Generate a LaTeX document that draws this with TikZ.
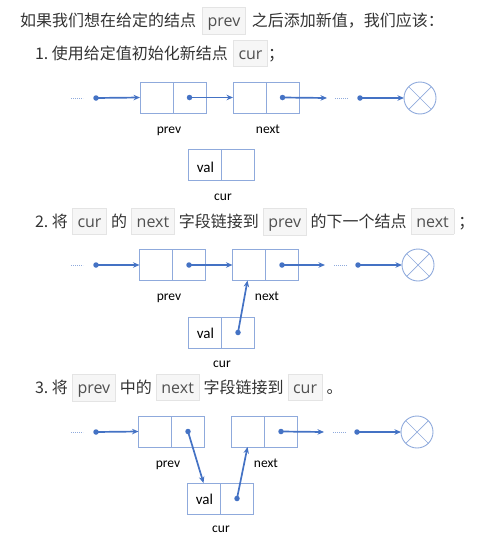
\documentclass[tikz,border=0pt]{standalone}
\usepackage{fontspec}
\setmainfont{Open Sans}
\newfontfamily\cjk{Noto Sans CJK SC}
\newfontfamily\labelfont{Carlito}
\usetikzlibrary{arrows.meta, calc}

\definecolor{boxblue}{HTML}{8FAADC}
\definecolor{ptrblue}{HTML}{4472C4}
\definecolor{codebg}{HTML}{F6F6F6}
\definecolor{codeline}{HTML}{E4E4E4}
\definecolor{codetext}{HTML}{505050}
\definecolor{bodytext}{HTML}{333333}

% inline code chip
\newcommand{\chip}[1]{{\setlength\fboxsep{4pt}\setlength\fboxrule{0.6pt}%
  \fcolorbox{codeline}{codebg}{\rule[-3pt]{0pt}{17pt}\kern1pt{\rmfamily\color{codetext}#1}\kern1pt}}}

\begin{document}
\begin{tikzpicture}[x=1pt, y=-1pt,
    every node/.style={inner sep=0pt, outer sep=0pt},
    line/.style={font=\cjk\fontsize{16}{20}\selectfont, text=bodytext, anchor=base west},
    listnode/.style={draw=boxblue, line width=0.9pt, minimum width=66pt, minimum height=31pt,
        path picture={\draw[boxblue, line width=0.9pt] (path picture bounding box.north) -- (path picture bounding box.south);}},
    nullnode/.style={circle, draw=boxblue, line width=0.9pt, minimum size=32pt,
        path picture={\draw[boxblue, line width=0.7pt]
            (path picture bounding box.north west) -- (path picture bounding box.south east)
            (path picture bounding box.north east) -- (path picture bounding box.south west);}},
    tag/.style={font=\labelfont\fontsize{13.5}{15}\selectfont, anchor=base},
    valtext/.style={font=\labelfont\fontsize{15}{17}\selectfont, anchor=base},
    ptr/.style={ptrblue, line width=1.7pt, -{Stealth[length=6.5pt, width=5.5pt]}},
    dot/.style={circle, fill=ptrblue, minimum size=5.5pt},
    more/.style={boxblue, line width=1pt, dash pattern=on 1.2pt off 0.8pt}
]
    \useasboundingbox (0,0) rectangle (481,541);

    % text
    \node[line] (intro) at (20,26) {如果我们想在给定的结点\hspace{6pt}\chip{prev}\hspace{6pt}之后添加新值，我们应该：};
    \node[line] (step1) at (35,59) {1.\ 使用给定值初始化新结点\hspace{5pt}\chip{cur}；};
    \node[line] (step2) at (35,227) {2.\ 将\hspace{4pt}\chip{cur}\hspace{4pt}的\hspace{4pt}\chip{next}\hspace{4pt}字段链接到\hspace{4pt}\chip{prev}\hspace{4pt}的下一个结点\hspace{4pt}\chip{next}\hspace{4pt}；};
    \node[line] (step3) at (35,393) {3.\ 将\hspace{4pt}\chip{prev}\hspace{4pt}中的\hspace{4pt}\chip{next}\hspace{4pt}字段链接到\hspace{4pt}\chip{cur}\hspace{4pt}。};

    % step 1
    \node[listnode] (prevA) at (173,97.5) {};
    \node[listnode] (nextA) at (266,97.5) {};
    \node[listnode] (curA) at (221.5,165) {};
    \node[nullnode] (nullA) at (420,98) {};
    \node[valtext] (valA) at (205.5,172) {val};
    \node[tag] (prevtagA) at (169,133) {prev};
    \node[tag] (nexttagA) at (268,133) {next};
    \node[tag] (curtagA) at (223,200) {cur};
    \node[dot] (headA) at (96,98) {};
    \node[dot] (pA) at ($(prevA.center)!0.5!(prevA.east)$) {};
    \node[dot] (nA) at ($(nextA.center)!0.5!(nextA.east)$) {};
    \node[dot] (tailA) at (360,98) {};
    \coordinate (endA) at (327,98);
    \draw[more] (71,98) -- (83,98);
    \draw[more] (335,98) -- (348,98);
    \draw[ptr] (headA.center) -- (prevA.west);
    \draw[ptr] (pA.center) -- (nextA.west);
    \draw[ptr] (nA.center) -- (endA);
    \draw[ptr] (tailA.center) -- (nullA.west);

    % step 2
    \node[listnode] (prevB) at (172.5,265) {};
    \node[listnode] (nextB) at (265.5,265) {};
    \node[listnode] (curB) at (221.5,332.5) {};
    \node[nullnode] (nullB) at (418,265) {};
    \node[valtext] (valB) at (205.5,338) {val};
    \node[tag] (prevtagB) at (169,300) {prev};
    \node[tag] (nexttagB) at (267,300) {next};
    \node[tag] (curtagB) at (222,367) {cur};
    \node[dot] (headB) at (96,265) {};
    \node[dot] (pB) at ($(prevB.center)!0.5!(prevB.east)$) {};
    \node[dot] (nB) at ($(nextB.center)!0.5!(nextB.east)$) {};
    \node[dot] (cB) at ($(curB.center)!0.5!(curB.east)$) {};
    \node[dot] (tailB) at (358,265) {};
    \coordinate (endB) at (325,265);
    \draw[more] (71,265) -- (83,265);
    \draw[more] (334,265) -- (347,265);
    \draw[ptr] (headB.center) -- (prevB.west);
    \draw[ptr] (pB.center) -- (nextB.west);
    \draw[ptr] (nB.center) -- (endB);
    \draw[ptr] (tailB.center) -- (nullB.west);
    \draw[ptr] (cB.center) -- ($(nextB.south west)+(15,0)$);

    % step 3
    \node[listnode] (prevC) at (171.5,431.5) {};
    \node[listnode] (nextC) at (264.5,431.5) {};
    \node[listnode] (curC) at (220.5,498.5) {};
    \node[nullnode] (nullC) at (417,432) {};
    \node[valtext] (valC) at (204.5,504) {val};
    \node[tag] (prevtagC) at (168,467) {prev};
    \node[tag] (nexttagC) at (266,467) {next};
    \node[tag] (curtagC) at (221,532) {cur};
    \node[dot] (headC) at (96,432) {};
    \node[dot] (pC) at ($(prevC.center)!0.5!(prevC.east)$) {};
    \node[dot] (nC) at ($(nextC.center)!0.5!(nextC.east)$) {};
    \node[dot] (cC) at ($(curC.center)!0.5!(curC.east)$) {};
    \node[dot] (tailC) at (357,432) {};
    \coordinate (endC) at (324,432);
    \draw[more] (71,432) -- (83,432);
    \draw[more] (333,432) -- (346,432);
    \draw[ptr] (headC.center) -- (prevC.west);
    \draw[ptr] (pC.center) -- ($(curC.north west)+(16,0)$);
    \draw[ptr] (nC.center) -- (endC);
    \draw[ptr] (tailC.center) -- (nullC.west);
    \draw[ptr] (cC.center) -- ($(nextC.south west)+(16,0)$);
\end{tikzpicture}
\end{document}
